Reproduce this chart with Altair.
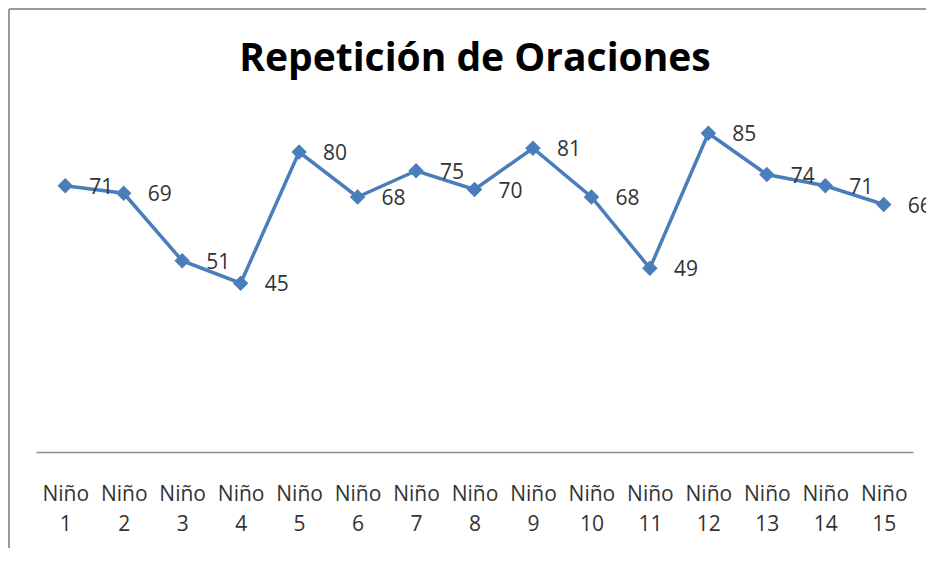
import altair as alt
import pandas as pd

ninos = [f"Niño {i}" for i in range(1, 16)]
valores = [71, 69, 51, 45, 80, 68, 75, 70, 81, 68, 49, 85, 74, 71, 66]
titulo = "Repetición de Oraciones"

df = pd.DataFrame({"nino": ninos, "valor": valores})

W, H = 877, 375
PL, PT, PR, PB = 28, 69, 13, 96
BLUE = "#4a7ebb"
FONT = "Open Sans"

x = alt.X("nino:N", sort=ninos, title=None,
          axis=alt.Axis(labelExpr="split(datum.label, ' ')", labelAngle=0,
                        ticks=False, domainColor="#8c8c8c", domainWidth=1.5,
                        labelFont=FONT, labelFontSize=21, labelColor="#333333",
                        labelPadding=31, labelLineHeight=30, labelBaseline="top"))
y = alt.Y("valor:Q", scale=alt.Scale(domain=[0, 100]), axis=None)

base = alt.Chart(df).encode(x=x, y=y)

line = base.mark_line(color=BLUE, strokeWidth=3.5)
pts = base.mark_point(shape="diamond", filled=True, size=240, color=BLUE, opacity=1)
labels = base.mark_text(align="left", baseline="middle", dx=24, dy=2,
                        font=FONT, fontSize=21, color="#333333").encode(text="valor:Q")

title_df = pd.DataFrame({"t": [titulo]})
title = alt.Chart(title_df).mark_text(
    font=FONT, fontSize=39, fontWeight="bold", color="#000000",
    align="center", baseline="alphabetic").encode(
    text="t:N", x=alt.value(439), y=alt.value(-6))

border_v = alt.Chart(title_df).mark_rule(color="#9a9a9a", strokeWidth=2).encode(
    x=alt.value(-27), y=alt.value(-PT + 1), y2=alt.value(H + PB))
border_h = alt.Chart(title_df).mark_rule(color="#9a9a9a", strokeWidth=2).encode(
    x=alt.value(-27), x2=alt.value(W + PR), y=alt.value(-PT + 1))

chart = alt.layer(border_v, border_h, title, line, pts, labels).properties(
    width=W, height=H,
    autosize=alt.AutoSizeParams(type="none"),
    padding={"left": PL, "top": PT, "right": PR, "bottom": PB},
).configure_view(stroke=None)

chart.save("out.html", embed_options={"renderer": "svg", "actions": False})
